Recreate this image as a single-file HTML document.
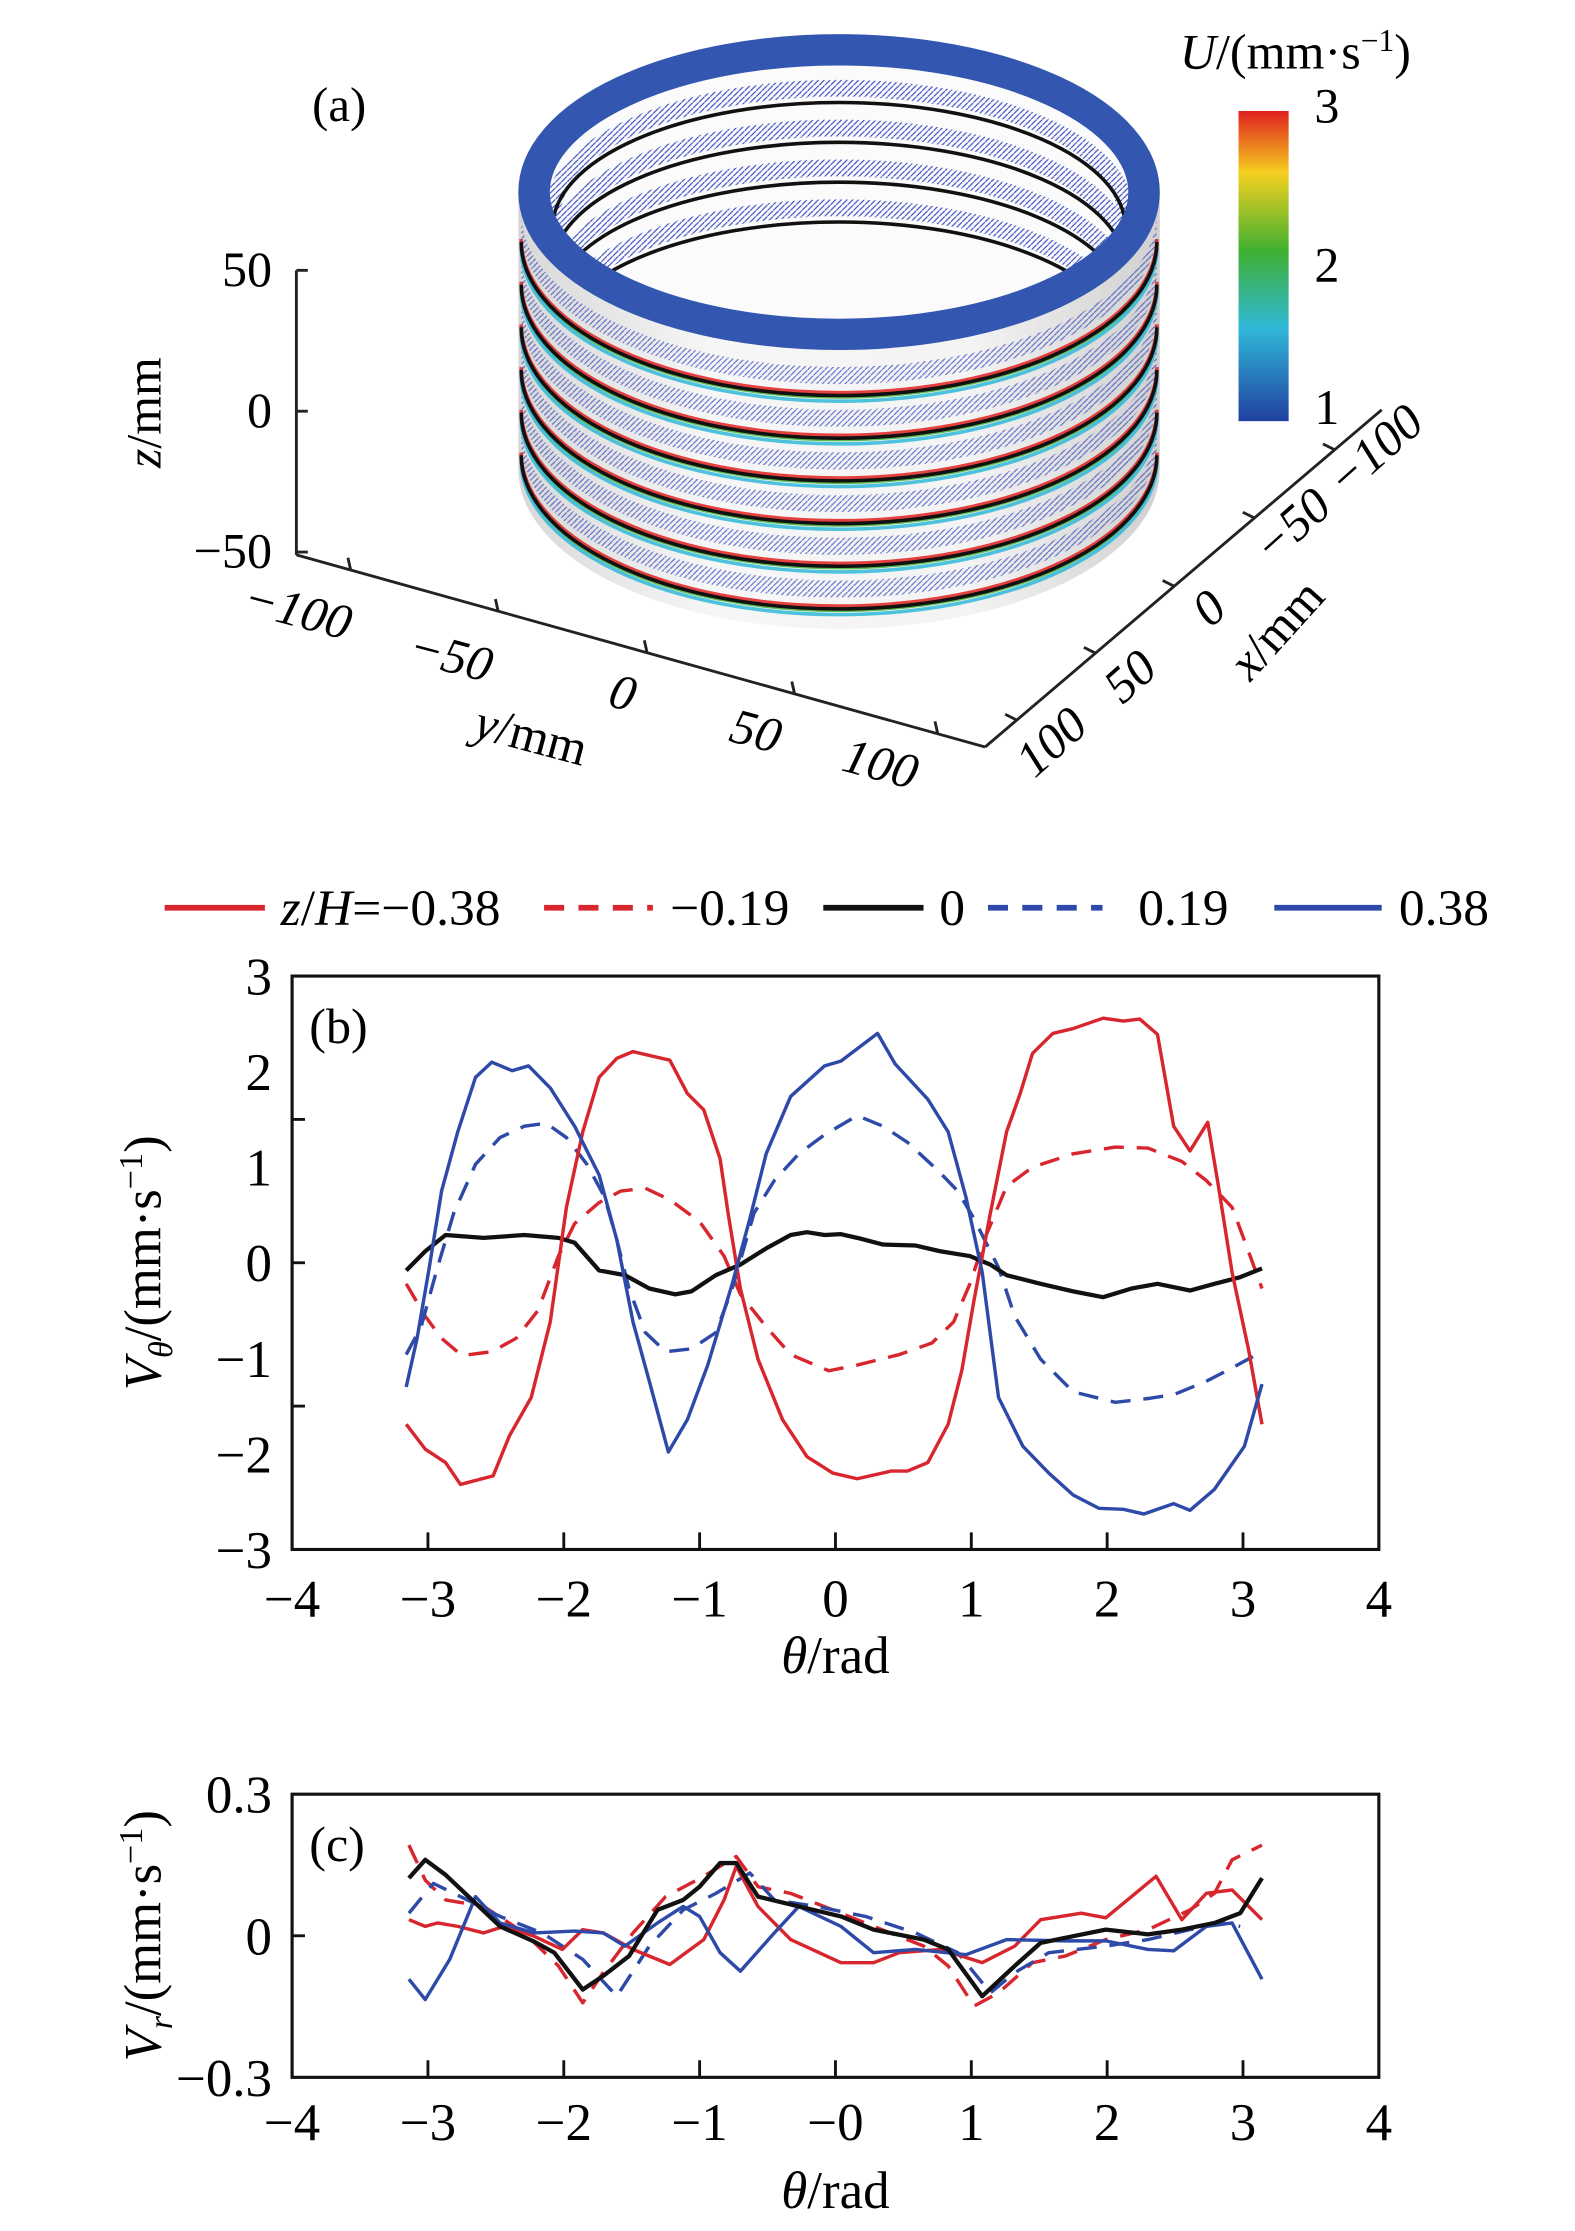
<!DOCTYPE html>
<html><head><meta charset="utf-8"><style>
html,body{margin:0;padding:0;background:#fff;}
svg{display:block;font-family:"Liberation Serif",serif;}
</style></head><body>
<svg id="fig" width="1575" height="2231" viewBox="0 0 1100 1568" preserveAspectRatio="none" xmlns="http://www.w3.org/2000/svg">
<defs>
<linearGradient id="cbar" x1="0" y1="0" x2="0" y2="1">
<stop offset="0" stop-color="#e02020"/><stop offset="0.2" stop-color="#f5d020"/><stop offset="0.45" stop-color="#40b030"/><stop offset="0.7" stop-color="#30b8d8"/><stop offset="1" stop-color="#2040a0"/>
</linearGradient>
<linearGradient id="body" x1="0" y1="0" x2="1" y2="0">
<stop offset="0" stop-color="#d8d8d8"/><stop offset="0.3" stop-color="#f6f6f6"/><stop offset="0.7" stop-color="#f4f4f4"/><stop offset="1" stop-color="#d0d0d0"/>
</linearGradient>
<pattern id="hatch" width="4" height="4" patternUnits="userSpaceOnUse"><path d="M0 4L4 0" stroke="#3a4cc0" stroke-width="0.8"/></pattern>
<clipPath id="innerClip"><ellipse cx="586" cy="135" rx="205" ry="92"/></clipPath>
</defs>

<g>
<text x="218" y="85" font-size="34">(a)</text>
<g stroke="#222" stroke-width="2" fill="none">
<line x1="207" y1="190" x2="207" y2="390"/>
<line x1="207" y1="190" x2="215" y2="190"/><line x1="207" y1="289" x2="215" y2="289"/><line x1="207" y1="388" x2="215" y2="388"/>
</g>
<g font-size="35" text-anchor="end">
<text x="190" y="201">50</text><text x="190" y="300">0</text><text x="190" y="399">−50</text>
</g>
<text transform="translate(112,290) rotate(-90)" font-size="35" text-anchor="middle"><tspan font-style="italic">z</tspan>/mm</text>
<g stroke="#222" stroke-width="2">
<line x1="207" y1="390" x2="688" y2="525"/>
<line x1="245" y1="401" x2="243" y2="392"/><line x1="348" y1="430" x2="346" y2="421"/><line x1="452" y1="459" x2="450" y2="450"/><line x1="555" y1="488" x2="553" y2="479"/><line x1="655" y1="516" x2="653" y2="507"/>
</g>
<g font-size="35" font-style="italic" text-anchor="middle">
<text transform="translate(205,440) rotate(15)">−100</text>
<text transform="translate(312,472) rotate(15)">−50</text>
<text transform="translate(432,498) rotate(15)">0</text>
<text transform="translate(525,525) rotate(15)">50</text>
<text transform="translate(612,548) rotate(15)">100</text>
<text transform="translate(368,528) rotate(15)"><tspan>y</tspan><tspan font-style="normal">/mm</tspan></text>
</g>
<g stroke="#222" stroke-width="2">
<line x1="688" y1="525" x2="965" y2="288"/>
<line x1="710" y1="506" x2="702" y2="502"/><line x1="765" y1="459" x2="757" y2="455"/><line x1="820" y1="412" x2="812" y2="408"/><line x1="876" y1="364" x2="868" y2="360"/><line x1="932" y1="316" x2="924" y2="312"/>
</g>
<g font-size="35" font-style="italic" text-anchor="middle">
<text transform="translate(742,530) rotate(-42)">100</text>
<text transform="translate(797,484) rotate(-42)">50</text>
<text transform="translate(852,436) rotate(-42)">0</text>
<text transform="translate(910,378) rotate(-42)">−50</text>
<text transform="translate(968,325) rotate(-42)">−100</text>
<text transform="translate(900,450) rotate(-48)"><tspan>x</tspan><tspan font-style="normal">/mm</tspan></text>
</g>
<g>
<path d="M362 135 L362 330 A224 112 0 0 0 810 330 L810 135 Z" fill="url(#body)"/>
<g id="bands"></g>
<ellipse cx="586" cy="135" rx="213" ry="100" fill="none" stroke="#3356b0" stroke-width="22"/>
</g>
<rect x="865" y="78" width="35" height="218" fill="url(#cbar)"/>
<g font-size="35">
<text x="918" y="86">3</text><text x="918" y="198">2</text><text x="918" y="298">1</text>
<text x="824" y="48"><tspan font-style="italic">U</tspan>/(mm·s<tspan font-size="22" dy="-12">−1</tspan><tspan dy="12">)</tspan></text>
</g>
</g>

<g font-size="36">
<line x1="115" y1="638" x2="185" y2="638" stroke="#d8262e" stroke-width="4"/>
<text x="196" y="650"><tspan font-style="italic">z</tspan>/<tspan font-style="italic">H</tspan>=−0.38</text>
<line x1="380" y1="638" x2="456" y2="638" stroke="#d8262e" stroke-width="4" stroke-dasharray="14,10"/>
<text x="468" y="650">−0.19</text>
<line x1="575" y1="638" x2="645" y2="638" stroke="#111" stroke-width="4"/>
<text x="656" y="650">0</text>
<line x1="690" y1="638" x2="770" y2="638" stroke="#2e4aa8" stroke-width="4" stroke-dasharray="14,10"/>
<text x="795" y="650">0.19</text>
<line x1="890" y1="638" x2="965" y2="638" stroke="#2e4aa8" stroke-width="4"/>
<text x="977" y="650">0.38</text>
</g>

<g id="panelB"></g>
<g id="panelC"></g>
</svg>
<script>
var xTicks = [-4,-3,-2,-1,0,1,2,3,4];
var xTickLabelsB = ["−4","−3","−2","−1","0","1","2","3","4"];
var xTickLabelsC = ["−4","−3","−2","−1","−0","1","2","3","4"];
var yTicksB = [3,2,1,0,-1,-2,-3];
var yTickLabelsB = ["3","2","1","0","−1","−2","−3"];
var yTicksC = [0.3,0,-0.3];
var yTickLabelsC = ["0.3","0","−0.3"];

var bRedSolidX = [-3.16,-3.02,-2.87,-2.76,-2.52,-2.40,-2.24,-2.10,-1.98,-1.86,-1.74,-1.61,-1.49,-1.22,-1.09,-0.97,-0.85,-0.79,-0.70,-0.57,-0.39,-0.21,-0.02,0.16,0.41,0.53,0.68,0.83,0.93,1.02,1.14,1.26,1.36,1.45,1.60,1.75,1.97,2.12,2.24,2.37,2.49,2.61,2.74,2.82,2.92,3.04,3.14];
var bRedSolidY = [-1.69,-1.95,-2.09,-2.32,-2.23,-1.81,-1.41,-0.62,0.58,1.37,1.94,2.14,2.21,2.12,1.77,1.60,1.09,0.52,-0.27,-1.01,-1.64,-2.03,-2.20,-2.26,-2.18,-2.18,-2.09,-1.69,-1.13,-0.39,0.52,1.37,1.77,2.19,2.40,2.45,2.56,2.53,2.55,2.39,1.43,1.17,1.47,0.80,-0.10,-0.90,-1.69];
var bRedDashX = [-3.16,-3.02,-2.90,-2.75,-2.53,-2.35,-2.19,-2.04,-1.92,-1.74,-1.58,-1.40,-1.22,-1.00,-0.82,-0.70,-0.51,-0.33,-0.05,0.16,0.47,0.71,0.87,0.99,1.11,1.26,1.45,1.75,2.06,2.30,2.55,2.73,2.92,3.04,3.14];
var bRedDashY = [-0.22,-0.56,-0.79,-0.97,-0.93,-0.79,-0.50,0.07,0.41,0.63,0.75,0.78,0.66,0.43,0.07,-0.33,-0.67,-0.96,-1.13,-1.07,-0.96,-0.84,-0.62,-0.22,0.29,0.80,1.00,1.14,1.21,1.20,1.06,0.86,0.58,0.12,-0.27];
var bBlackX = [-3.16,-3.02,-2.87,-2.59,-2.29,-2.04,-1.92,-1.74,-1.55,-1.37,-1.18,-1.06,-0.88,-0.70,-0.51,-0.33,-0.21,-0.08,0.04,0.16,0.35,0.59,0.77,0.99,1.14,1.26,1.51,1.75,1.97,2.18,2.37,2.61,2.79,2.98,3.14];
var bBlackY = [-0.08,0.12,0.29,0.26,0.29,0.26,0.21,-0.08,-0.13,-0.27,-0.33,-0.30,-0.13,-0.02,0.15,0.29,0.32,0.29,0.30,0.26,0.19,0.18,0.12,0.07,-0.02,-0.13,-0.22,-0.30,-0.36,-0.27,-0.22,-0.29,-0.22,-0.15,-0.06];
var bBlueDashX = [-3.16,-3.05,-2.93,-2.81,-2.65,-2.47,-2.29,-2.13,-1.98,-1.83,-1.70,-1.61,-1.52,-1.40,-1.25,-1.06,-0.88,-0.76,-0.60,-0.45,-0.27,-0.08,0.16,0.35,0.53,0.75,0.90,1.02,1.08,1.20,1.32,1.51,1.75,2.06,2.30,2.49,2.73,2.92,3.10];
var bBlueDashY = [-0.96,-0.67,-0.05,0.52,1.03,1.31,1.43,1.46,1.31,1.03,0.69,0.24,-0.27,-0.73,-0.93,-0.90,-0.73,-0.27,0.52,0.86,1.14,1.34,1.54,1.43,1.26,0.97,0.75,0.46,0.29,-0.05,-0.56,-1.01,-1.35,-1.46,-1.42,-1.38,-1.24,-1.10,-0.96];
var bBlueSolidX = [-3.16,-3.08,-2.99,-2.90,-2.78,-2.65,-2.53,-2.38,-2.26,-2.10,-1.92,-1.74,-1.61,-1.49,-1.37,-1.23,-1.09,-0.94,-0.76,-0.63,-0.51,-0.33,-0.08,0.04,0.31,0.44,0.68,0.83,0.96,1.08,1.20,1.38,1.57,1.75,1.94,2.12,2.27,2.49,2.61,2.79,3.01,3.14];
var bBlueSolidY = [-1.30,-0.79,-0.05,0.75,1.37,1.94,2.10,2.01,2.06,1.83,1.43,0.92,0.24,-0.62,-1.24,-1.98,-1.64,-1.07,-0.22,0.46,1.14,1.74,2.06,2.11,2.40,2.08,1.71,1.37,0.69,-0.10,-1.41,-1.92,-2.20,-2.43,-2.57,-2.58,-2.63,-2.52,-2.59,-2.37,-1.92,-1.27];

var cBlackX = [-3.14,-3.02,-2.87,-2.65,-2.47,-2.22,-2.07,-1.86,-1.71,-1.52,-1.31,-1.12,-1.00,-0.85,-0.73,-0.57,-0.27,0.04,0.28,0.65,0.83,1.08,1.32,1.51,1.75,1.99,2.30,2.55,2.79,2.98,3.14];
var cBlackY = [0.122,0.161,0.129,0.069,0.020,-0.012,-0.036,-0.114,-0.085,-0.043,0.055,0.076,0.104,0.154,0.154,0.083,0.062,0.041,0.013,-0.008,-0.029,-0.128,-0.064,-0.015,-0.001,0.013,0.003,0.013,0.027,0.048,0.122];
var cRedSolidX = [-3.14,-3.02,-2.93,-2.78,-2.59,-2.44,-2.22,-2.01,-1.86,-1.71,-1.49,-1.22,-0.97,-0.82,-0.73,-0.57,-0.33,0.04,0.28,0.47,0.77,1.08,1.32,1.51,1.81,1.99,2.36,2.55,2.73,2.92,3.14];
var cRedSolidY = [0.034,0.020,0.027,0.020,0.006,0.020,-0.001,-0.029,0.013,0.006,-0.029,-0.061,-0.008,0.076,0.147,0.062,-0.008,-0.057,-0.057,-0.036,-0.029,-0.057,-0.022,0.034,0.048,0.038,0.126,0.034,0.090,0.097,0.034];
var cRedDashX = [-3.14,-3.02,-2.87,-2.59,-2.29,-2.04,-1.86,-1.71,-1.49,-1.25,-0.97,-0.73,-0.57,-0.33,-0.02,0.28,0.65,0.83,1.02,1.20,1.45,1.69,1.99,2.30,2.61,2.79,2.92,3.14];
var cRedDashY = [0.192,0.118,0.076,0.062,0.006,-0.064,-0.142,-0.078,0.006,0.083,0.126,0.168,0.104,0.090,0.055,0.020,-0.022,-0.064,-0.149,-0.121,-0.057,-0.043,-0.008,0.013,0.055,0.090,0.161,0.192];
var cBlueSolidX = [-3.14,-3.02,-2.84,-2.65,-2.47,-2.22,-1.92,-1.71,-1.55,-1.31,-1.12,-1.00,-0.85,-0.70,-0.45,-0.27,0.04,0.28,0.59,0.96,1.26,1.69,1.99,2.30,2.49,2.73,2.92,3.14];
var cBlueSolidY = [-0.092,-0.135,-0.050,0.083,0.027,0.006,0.010,0.006,-0.022,0.027,0.062,0.041,-0.036,-0.075,0.006,0.062,0.020,-0.036,-0.029,-0.040,-0.008,-0.011,-0.011,-0.029,-0.032,0.020,0.027,-0.092];
var cBlueDashX = [-3.14,-2.96,-2.71,-2.47,-2.16,-1.86,-1.61,-1.37,-1.12,-0.88,-0.63,-0.45,-0.14,0.22,0.59,0.90,1.14,1.32,1.57,1.99,2.30,2.61,2.85,2.98];
var cBlueDashY = [0.048,0.111,0.076,0.041,0.006,-0.050,-0.128,-0.022,0.055,0.090,0.133,0.076,0.062,0.041,0.006,-0.036,-0.121,-0.078,-0.036,-0.022,-0.008,0.013,0.027,0.020];

var NS = "http://www.w3.org/2000/svg";
var RED = "#d8262e", BLUE = "#2e4aa8", BLACK = "#111";
function mk(tag, parent) { var e = document.createElementNS(NS, tag); parent.appendChild(e); return e; }

function drawPanel(g, box, xmin, xmax, ymin, ymax, yT, yL, xL, yTickMarks, series, label, ytitle, xlabY, xtitleY) {
  function sx(v) { return box.l + (v - xmin) / (xmax - xmin) * (box.r - box.l); }
  function sy(v) { return box.b - (v - ymin) / (ymax - ymin) * (box.b - box.t); }
  var clip = mk("clipPath", g); clip.setAttribute("id", label + "clip");
  var cr = mk("rect", clip); cr.setAttribute("x", box.l); cr.setAttribute("y", box.t); cr.setAttribute("width", box.r - box.l); cr.setAttribute("height", box.b - box.t);
  var sg = mk("g", g); sg.setAttribute("clip-path", "url(#" + label + "clip)");
  
  
  series.forEach(function (s) {
    var p = mk("path", sg);
    var d = s.x.map(function (v, i) { return (i ? "L" : "M") + sx(v).toFixed(1) + " " + sy(s.y[i]).toFixed(1); }).join("");
    p.setAttribute("d", d); p.setAttribute("fill", "none"); p.setAttribute("stroke", s.c);
    p.setAttribute("stroke-width", s.c === BLACK ? 3 : 2.4); p.setAttribute("stroke-linejoin", "round");
    if (s.dash) p.setAttribute("stroke-dasharray", "14,9");
    
    
  });
  var frame = mk("rect", g);
  frame.setAttribute("x", box.l); frame.setAttribute("y", box.t); frame.setAttribute("width", box.r - box.l); frame.setAttribute("height", box.b - box.t);
  frame.setAttribute("fill", "none"); frame.setAttribute("stroke", "#111"); frame.setAttribute("stroke-width", 2.2);
  
  
  xTicks.forEach(function (v, i) {
    if (v > -4 && v < 4) {
      var t = mk("line", g); t.setAttribute("x1", sx(v)); t.setAttribute("x2", sx(v)); t.setAttribute("y1", box.b); t.setAttribute("y2", box.b - 12); t.setAttribute("stroke", "#111"); t.setAttribute("stroke-width", 2);
      
      
    }
    var tx = mk("text", g); tx.textContent = xL[i]; tx.setAttribute("x", sx(v)); tx.setAttribute("y", xlabY); tx.setAttribute("font-size", 37); tx.setAttribute("text-anchor", "middle");
    
    
  });
  yT.forEach(function (v, i) {
    var tx = mk("text", g); tx.textContent = yL[i]; tx.setAttribute("x", box.l - 14); tx.setAttribute("y", sy(v) + 13); tx.setAttribute("font-size", 37); tx.setAttribute("text-anchor", "end");
    
    
  });
  yTickMarks.forEach(function (v) {
    var t = mk("line", g); t.setAttribute("x1", box.l); t.setAttribute("x2", box.l + 9); t.setAttribute("y1", sy(v)); t.setAttribute("y2", sy(v)); t.setAttribute("stroke", "#111"); t.setAttribute("stroke-width", 2);
    
    
  });
  var lb = mk("text", g); lb.textContent = "(" + label + ")"; lb.setAttribute("x", box.l + 12); lb.setAttribute("y", box.t + 47); lb.setAttribute("font-size", 35);
  
  
  var xt = mk("text", g); xt.setAttribute("x", (box.l + box.r) / 2); xt.setAttribute("y", xtitleY); xt.setAttribute("font-size", 37); xt.setAttribute("text-anchor", "middle");
  xt.innerHTML = '<tspan font-style="italic">θ</tspan>/rad';
  
  
  var yt = mk("text", g); yt.setAttribute("transform", "translate(112," + ((box.t + box.b) / 2) + ") rotate(-90)"); yt.setAttribute("font-size", 37); yt.setAttribute("text-anchor", "middle");
  yt.innerHTML = '<tspan font-style="italic">V</tspan><tspan font-style="italic" font-size="24" dy="8">' + ytitle + '</tspan><tspan dy="-8">/(mm·s</tspan><tspan font-size="24" dy="-13">−1</tspan><tspan dy="13">)</tspan>';
  
  
}

drawPanel(document.getElementById("panelB"), {l:204, r:963, t:686, b:1089}, -4, 4, -3, 3, yTicksB, yTickLabelsB, xTickLabelsB, [1.5, 0, -1.5], [
  {x:bRedDashX, y:bRedDashY, c:RED, dash:true, name:"line-b-neg019"},
  {x:bBlueDashX, y:bBlueDashY, c:BLUE, dash:true, name:"line-b-019"},
  {x:bBlackX, y:bBlackY, c:BLACK, name:"line-b-0"},
  {x:bRedSolidX, y:bRedSolidY, c:RED, name:"line-b-neg038"},
  {x:bBlueSolidX, y:bBlueSolidY, c:BLUE, name:"line-b-038"}
], "b", "θ", 1136, 1176);

drawPanel(document.getElementById("panelC"), {l:204, r:963, t:1261, b:1460}, -4, 4, -0.3, 0.3, yTicksC, yTickLabelsC, xTickLabelsC, [0], [
  {x:cRedDashX, y:cRedDashY, c:RED, dash:true, name:"line-c-neg019"},
  {x:cBlueDashX, y:cBlueDashY, c:BLUE, dash:true, name:"line-c-019"},
  {x:cRedSolidX, y:cRedSolidY, c:RED, name:"line-c-neg038"},
  {x:cBlueSolidX, y:cBlueSolidY, c:BLUE, name:"line-c-038"},
  {x:cBlackX, y:cBlackY, c:BLACK, name:"line-c-0"}
], "c", "r", 1504, 1552);

(function () {
  var g = document.getElementById("bands");
  var cx = 586, rx = 222, ry = 108;
  var centers = [150, 180, 210, 240, 270, 300];
  centers.forEach(function (c) {
    var h = mk("path", g);
    h.setAttribute("d", "M" + (cx - rx) + " " + c + " A" + rx + " " + ry + " 0 0 0 " + (cx + rx) + " " + c + " L" + (cx + rx) + " " + (c + 12) + " A" + rx + " " + ry + " 0 0 1 " + (cx - rx) + " " + (c + 12) + "Z");
    h.setAttribute("fill", "url(#hatch)"); h.setAttribute("opacity", "0.8");
    
    
    ["#e02020", "#40b030", "#30b8d8"].forEach(function (col, k) {
      var a = mk("path", g);
      a.setAttribute("d", "M" + (cx - rx) + " " + (c + 18 + k * 3) + " A" + rx + " " + ry + " 0 0 0 " + (cx + rx) + " " + (c + 18 + k * 3));
      a.setAttribute("fill", "none"); a.setAttribute("stroke", col); a.setAttribute("stroke-width", 2.5); a.setAttribute("opacity", "0.85");
      
      
    });
    var b = mk("path", g);
    b.setAttribute("d", "M" + (cx - rx) + " " + (c + 20) + " A" + rx + " " + ry + " 0 0 0 " + (cx + rx) + " " + (c + 20));
    b.setAttribute("fill", "none"); b.setAttribute("stroke", "#111"); b.setAttribute("stroke-width", 2.5);
    
    
  });
  var inner = mk("ellipse", g);
  inner.setAttribute("cx", cx); inner.setAttribute("cy", 135); inner.setAttribute("rx", 205); inner.setAttribute("ry", 92); inner.setAttribute("fill", "#fbfbfb");
  
  
  var ig = mk("g", g); ig.setAttribute("clip-path", "url(#innerClip)");
  
  
  [150, 178, 206, 234].forEach(function (c) {
    var h = mk("path", ig);
    h.setAttribute("d", "M" + (cx - 200) + " " + c + " A200 88 0 0 1 " + (cx + 200) + " " + c);
    h.setAttribute("fill", "none"); h.setAttribute("stroke", "url(#hatch)"); h.setAttribute("stroke-width", 12);
    
    
    var b = mk("path", ig);
    b.setAttribute("d", "M" + (cx - 200) + " " + (c + 10) + " A200 88 0 0 1 " + (cx + 200) + " " + (c + 10));
    b.setAttribute("fill", "none"); b.setAttribute("stroke", "#111"); b.setAttribute("stroke-width", 2.5);
    
    
  });
})();
</script>
</body></html>
